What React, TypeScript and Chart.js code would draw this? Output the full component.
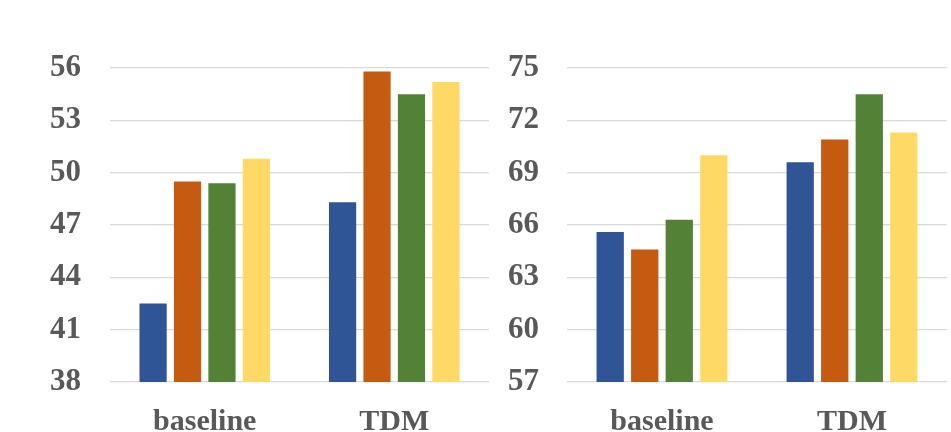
import { useEffect, useRef } from 'react'
import { Chart, registerables } from 'chart.js'

Chart.register(...registerables)

// categories and series
const categories = ['baseline', 'TDM']
const seriesNames = ['s1', 's2', 's3', 's4']
const seriesColors = ['#2F5597', '#C55A11', '#538135', '#FFD966']

// left panel values
const leftS1 = [42.5, 48.3]
const leftS2 = [49.5, 55.8]
const leftS3 = [49.4, 54.5]
const leftS4 = [50.8, 55.2]

// right panel values
const rightS1 = [65.6, 69.6]
const rightS2 = [64.6, 70.9]
const rightS3 = [66.3, 73.5]
const rightS4 = [70.0, 71.3]

// axis ranges
const leftMin = 38
const leftMax = 56
const rightMin = 57
const rightMax = 75
const tickStep = 3

const gray = '#595959'
const font = 'Liberation Serif, "Times New Roman", serif'

function Panel({
  values,
  min,
  max,
  axisWidth,
  labelPad,
  padRight,
}: {
  values: number[][]
  min: number
  max: number
  axisWidth: number
  labelPad: number
  padRight: number
}) {
  const canvasRef = useRef<HTMLCanvasElement | null>(null)
  const chartRef = useRef<Chart | null>(null)

  useEffect(() => {
    const ctx = canvasRef.current?.getContext('2d')
    if (!ctx) return

    chartRef.current?.destroy()
    chartRef.current = new Chart(ctx, {
      type: 'bar',
      data: {
        labels: categories,
        datasets: values.map((v, i) => ({
          label: seriesNames[i],
          data: v,
          backgroundColor: seriesColors[i],
          borderWidth: 0,
          categoryPercentage: 0.727,
          barPercentage: 0.79,
        })),
      },
      options: {
        animation: false,
        responsive: true,
        maintainAspectRatio: false,
        layout: { padding: { top: 68, right: padRight, bottom: 0, left: 0 } },
        plugins: {
          legend: { display: false },
          tooltip: { enabled: false },
        },
        scales: {
          x: {
            grid: { display: false, drawTicks: false },
            border: { display: false },
            ticks: {
              color: gray,
              padding: 22,
              font: { family: font, size: 30, weight: 'bold' },
            },
            afterFit: (scale) => {
              scale.height = 50
            },
          },
          y: {
            min,
            max,
            grid: { color: '#D9D9D9', lineWidth: 1.3, drawTicks: false },
            border: { display: false },
            ticks: {
              stepSize: tickStep,
              color: gray,
              padding: labelPad,
              font: { family: font, size: 31, weight: 'bold' },
            },
            afterFit: (scale) => {
              scale.width = axisWidth
            },
          },
        },
      },
    })

    return () => chartRef.current?.destroy()
  }, [values, min, max, axisWidth, labelPad, padRight])

  return <canvas ref={canvasRef} />
}

export default function App() {
  return (
    <div style={{ position: 'fixed', left: 0, top: 0, width: 951, height: 432, background: '#fff' }}>
      <div style={{ position: 'absolute', left: 0, top: 0, width: 489, height: 432 }}>
        <Panel
          values={[leftS1, leftS2, leftS3, leftS4]}
          min={leftMin}
          max={leftMax}
          axisWidth={110}
          labelPad={29}
          padRight={0}
        />
      </div>
      <div style={{ position: 'absolute', left: 489, top: 0, width: 462, height: 432 }}>
        <Panel
          values={[rightS1, rightS2, rightS3, rightS4]}
          min={rightMin}
          max={rightMax}
          axisWidth={78}
          labelPad={28}
          padRight={4}
        />
      </div>
    </div>
  )
}
